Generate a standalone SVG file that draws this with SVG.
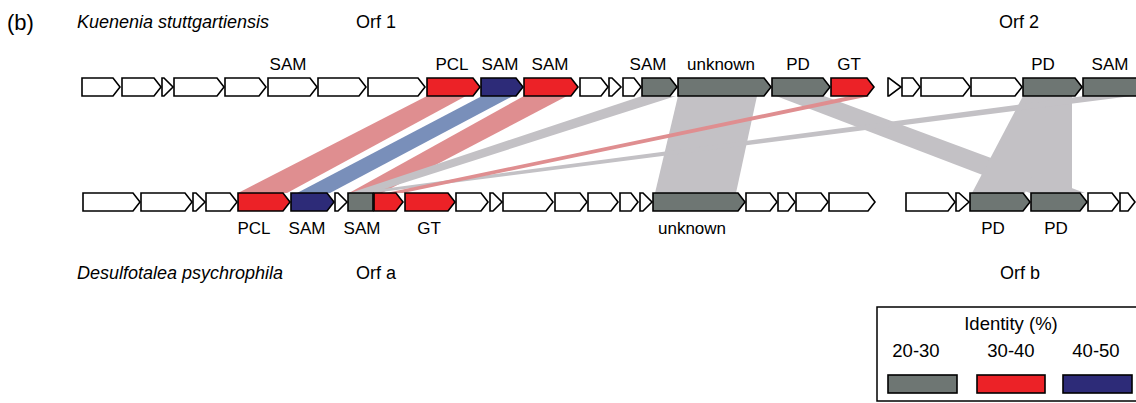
<svg xmlns="http://www.w3.org/2000/svg" width="1136" height="403" viewBox="0 0 1136 403">
  <style>
    text { font-family: "Liberation Sans", Arial, sans-serif; fill: #000; }
    .hd { font-size: 18px; }
    .sp { font-size: 18px; font-style: italic; }
    .lb { font-size: 17px; text-anchor: middle; }
    .lg { font-size: 18.5px; text-anchor: middle; }
    .mid { text-anchor: middle; }
    .gene { stroke: #000; stroke-width: 1.6; stroke-linejoin: miter; }
    .w { fill: #fff; }
    .r { fill: #ec2227; }
    .n { fill: #2d2b78; }
    .g { fill: #6e7673; }
    .br { fill: #df8e90; }
    .bb { fill: #798fba; }
    .bg { fill: #c3c1c5; }
  </style>

  <rect width="1136" height="403" fill="#fff"/>

  <!-- headers -->
  <text x="7" y="30" style="font-size:22px">(b)</text>
  <text x="77" y="28" class="sp">Kuenenia stuttgartiensis</text>
  <text x="376" y="28" class="hd mid">Orf 1</text>
  <text x="1019" y="28" class="hd mid">Orf 2</text>
  <text x="77" y="279" class="sp">Desulfotalea psychrophila</text>
  <text x="376" y="279" class="hd mid">Orf a</text>
  <text x="1020" y="279" class="hd mid">Orf b</text>

  <!-- homology bands between the two gene rows -->
  <g id="connectors">
    <polygon class="br" points="427,96 466,96 287,193 238,193"/>
    <polygon class="bb" points="482,96 513,96 330,193 297,193"/>
    <polygon class="br" points="524,96 567,96 382,193 349,193"/>
    <polygon class="bg" points="642,96 676,96 372,193 350,193"/>
    <polygon class="bg" points="678,96 757,96 736,193 655,193"/>
    <polygon class="bg" points="776,96 824,96 1085,193 1030,193"/>
    <polygon class="bg" points="1023,96 1063,96 1025,193 972,193"/>
    <polygon class="bg" points="1032,96 1072,96 1072,193 1032,193"/>
    <polygon class="bg" points="1084,96 1132,96 373,193 352,193"/>
    <polygon class="br" points="850,96 870,96 403,193 386,193"/>
  </g>

  <!-- Kuenenia stuttgartiensis genes (y 78-96) -->
  <g id="top-genes">
    <path id="k1" class="gene w" d="M82,78H113L120,87L113,96H82Z"/>
    <path id="k2" class="gene w" d="M122,78H154L161,87L154,96H122Z"/>
    <path id="k3" class="gene w" d="M162,78H164L173,87L164,96H162Z"/>
    <path id="k4" class="gene w" d="M174,78H217L224,87L217,96H174Z"/>
    <path id="k5" class="gene w" d="M225,78H259L266,87L259,96H225Z"/>
    <path id="k6" class="gene w" d="M268,78H310L317,87L310,96H268Z"/>
    <path id="k7" class="gene w" d="M318,78H359L366,87L359,96H318Z"/>
    <path id="k8" class="gene w" d="M368,78H418L425,87L418,96H368Z"/>
    <path id="k-pcl" class="gene r" d="M427,78H473L480,87L473,96H427Z"/>
    <path id="k-sam1" class="gene n" d="M481,78H516L523,87L516,96H481Z"/>
    <path id="k-sam2" class="gene r" d="M524,78H571L578,87L571,96H524Z"/>
    <path id="k9" class="gene w" d="M580,78H601L608,87L601,96H580Z"/>
    <path id="k10" class="gene w" d="M609,78H612L621,87L612,96H609Z"/>
    <path id="k11" class="gene w" d="M623,78H634L641,87L634,96H623Z"/>
    <path id="k-sam3" class="gene g" d="M642,78H670L677,87L670,96H642Z"/>
    <path id="k-unknown" class="gene g" d="M678,78H764L771,87L764,96H678Z"/>
    <path id="k-pd1" class="gene g" d="M772,78H823L830,87L823,96H772Z"/>
    <path id="k-gt" class="gene r" d="M831,78H867L874,87L867,96H831Z"/>
    <path id="k12" class="gene w" d="M888,78H889L901,87L889,96H888Z"/>
    <path id="k13" class="gene w" d="M902,78H913L920,87L913,96H902Z"/>
    <path id="k14" class="gene w" d="M921,78H963L970,87L963,96H921Z"/>
    <path id="k15" class="gene w" d="M971,78H1015L1022,87L1015,96H971Z"/>
    <path id="k-pd2" class="gene g" d="M1023,78H1075L1082,87L1075,96H1023Z"/>
    <path id="k-sam4" class="gene g" d="M1083,78H1140V96H1083Z"/>
  </g>

  <!-- Desulfotalea psychrophila genes (y 193-211) -->
  <g id="bottom-genes">
    <path id="d1" class="gene w" d="M83,193H133L140,202L133,211H83Z"/>
    <path id="d2" class="gene w" d="M141,193H185L192,202L185,211H141Z"/>
    <path id="d3" class="gene w" d="M193,193H196L205,202L196,211H193Z"/>
    <path id="d4" class="gene w" d="M206,193H230L237,202L230,211H206Z"/>
    <path id="d-pcl" class="gene r" d="M238,193H283L290,202L283,211H238Z"/>
    <path id="d-sam1" class="gene n" d="M291,193H327L334,202L327,211H291Z"/>
    <path id="d5" class="gene w" d="M335,193H338L347,202L338,211H335Z"/>
    <path id="d-sam2" class="gene g" d="M348,193H373V211H348Z"/>
    <path id="d-red" class="gene r" d="M374,193H396L403,202L396,211H374Z"/>
    <path id="d-gt" class="gene r" d="M405,193H448L455,202L448,211H405Z"/>
    <path id="d6" class="gene w" d="M456,193H481L488,202L481,211H456Z"/>
    <path id="d7" class="gene w" d="M490,193H493L502,202L493,211H490Z"/>
    <path id="d8" class="gene w" d="M503,193H546L553,202L546,211H503Z"/>
    <path id="d9" class="gene w" d="M555,193H580L587,202L580,211H555Z"/>
    <path id="d10" class="gene w" d="M588,193H611L618,202L611,211H588Z"/>
    <path id="d11" class="gene w" d="M620,193H631L638,202L631,211H620Z"/>
    <path id="d12" class="gene w" d="M640,193H643L652,202L643,211H640Z"/>
    <path id="d-unknown" class="gene g" d="M653,193H738L745,202L738,211H653Z"/>
    <path id="d13" class="gene w" d="M746,193H770L777,202L770,211H746Z"/>
    <path id="d14" class="gene w" d="M778,193H788L795,202L788,211H778Z"/>
    <path id="d15" class="gene w" d="M796,193H821L828,202L821,211H796Z"/>
    <path id="d16" class="gene w" d="M829,193H868L875,202L868,211H829Z"/>
    <path id="d17" class="gene w" d="M906,193H948L955,202L948,211H906Z"/>
    <path id="d18" class="gene w" d="M956,193H959L969,202L959,211H956Z"/>
    <path id="d-pd1" class="gene g" d="M970,193H1023L1030,202L1023,211H970Z"/>
    <path id="d-pd2" class="gene g" d="M1031,193H1080L1087,202L1080,211H1031Z"/>
    <path id="d19" class="gene w" d="M1088,193H1112L1119,202L1112,211H1088Z"/>
    <path id="d20" class="gene w" d="M1120,193H1128L1135,202L1128,211H1120Z"/>
  </g>

  <!-- gene labels -->
  <g id="top-labels">
    <text x="288" y="70" class="lb">SAM</text>
    <text x="452" y="70" class="lb">PCL</text>
    <text x="500" y="70" class="lb">SAM</text>
    <text x="550" y="70" class="lb">SAM</text>
    <text x="648" y="70" class="lb">SAM</text>
    <text x="721" y="70" class="lb">unknown</text>
    <text x="798" y="70" class="lb">PD</text>
    <text x="849" y="70" class="lb">GT</text>
    <text x="1043" y="70" class="lb">PD</text>
    <text x="1110" y="70" class="lb">SAM</text>
  </g>
  <g id="bottom-labels">
    <text x="254" y="234" class="lb">PCL</text>
    <text x="307" y="234" class="lb">SAM</text>
    <text x="362" y="234" class="lb">SAM</text>
    <text x="429" y="234" class="lb">GT</text>
    <text x="692" y="234" class="lb">unknown</text>
    <text x="993" y="234" class="lb">PD</text>
    <text x="1056" y="234" class="lb">PD</text>
  </g>

  <!-- identity legend -->
  <g id="legend">
    <rect x="877" y="307" width="270" height="94" fill="#fff" stroke="#000" stroke-width="1.5"/>
    <text x="1011" y="330" class="lg">Identity (%)</text>
    <text x="916" y="357" class="lg">20-30</text>
    <text x="1011" y="357" class="lg">30-40</text>
    <text x="1096" y="357" class="lg">40-50</text>
    <rect x="888" y="375" width="69" height="18" class="gene g"/>
    <rect x="977" y="375" width="68" height="18" class="gene r"/>
    <rect x="1063" y="375" width="69" height="18" class="gene n"/>
  </g>
</svg>
